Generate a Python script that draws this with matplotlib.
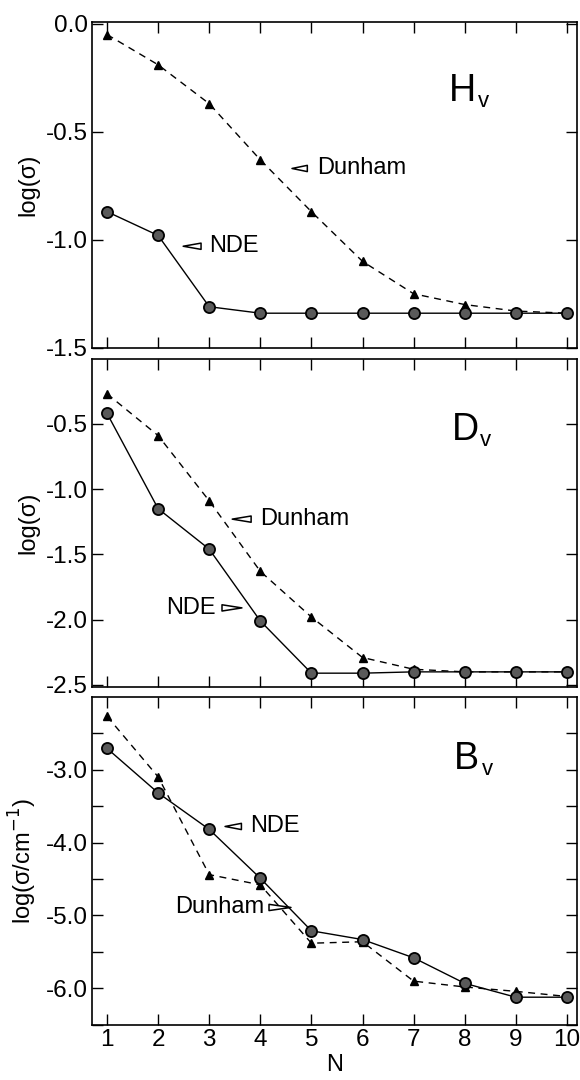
import matplotlib
matplotlib.use("Agg")
import matplotlib.pyplot as plt

plt.rcParams['font.family'] = ['Liberation Sans', 'DejaVu Sans']
plt.rcParams['axes.unicode_minus'] = False

N = list(range(1, 11))

# H_v panel
hv_dunham = [-0.05, -0.19, -0.37, -0.63, -0.87, -1.10, -1.25, -1.30, -1.33, -1.34]
hv_nde = [-0.87, -0.98, -1.31, -1.34, -1.34, -1.34, -1.34, -1.34, -1.34, -1.34]

# D_v panel
dv_dunham = [-0.27, -0.59, -1.09, -1.63, -1.98, -2.29, -2.38, -2.40, -2.40, -2.40]
dv_nde = [-0.42, -1.15, -1.46, -2.01, -2.41, -2.41, -2.40, -2.40, -2.40, -2.40]

# B_v panel
bv_dunham = [-2.27, -3.10, -4.44, -4.58, -5.38, -5.36, -5.90, -5.98, -6.04, -6.11]
bv_nde = [-2.71, -3.32, -3.82, -4.49, -5.21, -5.33, -5.58, -5.93, -6.12, -6.12]

fig = plt.figure(figsize=(5.8, 10.8), dpi=100)
L, W = 0.159, 0.836
ax1 = fig.add_axes([L, 0.678, W, 0.302])
ax2 = fig.add_axes([L, 0.364, W, 0.304])
ax3 = fig.add_axes([L, 0.051, W, 0.304])

fs = 17.5
fl = 17


def draw(ax, dun, nde):
    ax.plot(N, dun, color='black', lw=1.0, ls=(0, (5, 4)),
            marker='^', ms=6, mfc='black', mec='black')
    ax.plot(N, nde, color='black', lw=1.0,
            marker='o', ms=8, mfc='#5a5a5a', mec='black', mew=1.3)
    ax.set_xlim(0.71, 10.2)
    ax.set_xticks(N)
    ax.tick_params(direction='in', top=True, right=True, length=8, width=1,
                   labelsize=fs, pad=3)
    for s in ax.spines.values():
        s.set_linewidth(1.2)


def pointer(ax, tip, base):
    ax.annotate('', xy=tip, xytext=base,
                arrowprops=dict(arrowstyle='wedge,tail_width=0.45,shrink_factor=0.5',
                                fc='white', ec='black', lw=1.1,
                                shrinkA=0, shrinkB=0))


def label(ax, x, y, big):
    ax.text(x, y, big, fontsize=27, ha='left', va='center')
    ax.text(x + 0.55, y, 'v', fontsize=16, ha='left', va='top')


# panel 1
draw(ax1, hv_dunham, hv_nde)
ax1.set_ylim(-1.5, 0.01)
ax1.set_yticks([0.0, -0.5, -1.0, -1.5])
ax1.set_yticklabels(['0.0', '-0.5', '-1.0', '-1.5'])
ax1.set_xticklabels([])
ax1.set_ylabel('log(σ)', fontsize=fl, labelpad=5)
label(ax1, 7.7, -0.31, 'H')
pointer(ax1, (4.62, -0.67), (4.92, -0.67))
ax1.text(5.12, -0.67, 'Dunham', fontsize=fl, va='center')
pointer(ax1, (2.49, -1.03), (2.84, -1.03))
ax1.text(3.0, -1.03, 'NDE', fontsize=fl, va='center')

# panel 2
draw(ax2, dv_dunham, dv_nde)
ax2.set_ylim(-2.515, 0.0)
ax2.set_yticks([-0.5, -1.0, -1.5, -2.0, -2.5])
ax2.set_yticklabels(['-0.5', '-1.0', '-1.5', '-2.0', '-2.5'])
ax2.set_xticklabels([])
ax2.set_ylabel('log(σ)', fontsize=fl, labelpad=5)
label(ax2, 7.74, -0.55, 'D')
pointer(ax2, (3.45, -1.23), (3.82, -1.23))
ax2.text(4.0, -1.23, 'Dunham', fontsize=fl, va='center')
pointer(ax2, (3.64, -1.91), (3.25, -1.91))
ax2.text(3.12, -1.91, 'NDE', fontsize=fl, va='center', ha='right')

# panel 3
draw(ax3, bv_dunham, bv_nde)
ax3.set_ylim(-6.5, -2.0)
ytk = [-2.5, -3.0, -3.5, -4.0, -4.5, -5.0, -5.5, -6.0, -6.5]
ax3.set_yticks(ytk)
ax3.set_yticklabels(['' if v % 1 else '%.1f' % v for v in ytk])
ax3.set_xticklabels([str(n) for n in N])
ax3.set_xlabel('N', fontsize=fl, labelpad=2)
ax3.set_ylabel('log(σ/cm$^{-1}$)', fontsize=fl, labelpad=5)
label(ax3, 7.78, -2.85, 'B')
pointer(ax3, (3.31, -3.78), (3.63, -3.78))
ax3.text(3.8, -3.78, 'NDE', fontsize=fl, va='center')
pointer(ax3, (4.6, -4.89), (4.17, -4.89))
ax3.text(4.07, -4.89, 'Dunham', fontsize=fl, va='center', ha='right')

fig.savefig('out.png', dpi=100)
